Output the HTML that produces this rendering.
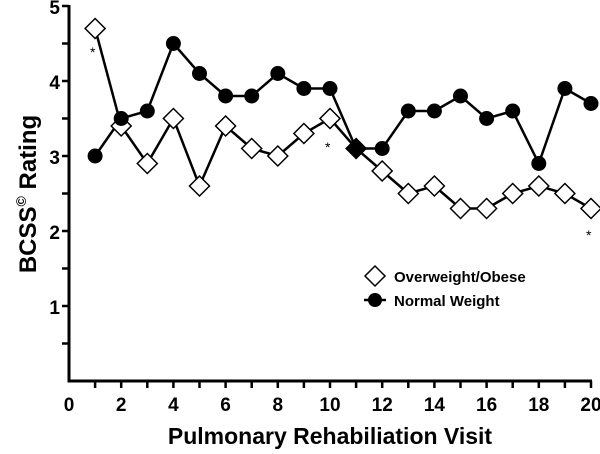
<!DOCTYPE html>
<html><head><style>body{margin:0;background:#fff}</style></head><body>
<svg width="600" height="449" xmlns="http://www.w3.org/2000/svg" font-family="Liberation Sans, sans-serif" font-weight="bold">
<g stroke="#000" stroke-width="3" fill="none">
<line x1="69" y1="5" x2="69" y2="382"/>
<line x1="67.5" y1="381" x2="592" y2="381"/>
</g>
<g stroke="#000" stroke-width="2.5" id="ticks"></g>
<g font-size="19" text-anchor="end" fill="#000">
<text x="60" y="14">5</text><text x="60" y="89">4</text><text x="60" y="164">3</text><text x="60" y="239">2</text><text x="60" y="314">1</text>
</g>
<g font-size="19" text-anchor="middle" fill="#000" id="xl"></g>
<text x="330" y="444" font-size="23" text-anchor="middle">Pulmonary Rehabiliation Visit</text>
<text transform="translate(36,194) rotate(-90)" font-size="24" text-anchor="middle">BCSS<tspan font-size="14" dy="-10">©</tspan><tspan dy="10"> Rating</tspan></text>
<g id="s"></g>
<g font-size="14" font-weight="normal">
<text x="90" y="57">*</text><text x="325" y="152">*</text><text x="586" y="240">*</text>
</g>
<polygon points="375,266 385,276 375,286 365,276" fill="#fff" stroke="#000" stroke-width="1.5"/>
<line x1="364" y1="300" x2="386" y2="300" stroke="#000" stroke-width="2.5"/>
<circle cx="375" cy="300" r="7" fill="#000"/>
<text x="394" y="282" font-size="15">Overweight/Obese</text>
<text x="394" y="306" font-size="15">Normal Weight</text>
<script>
var ns="http://www.w3.org/2000/svg";
function X(v){return 69+26.1*v}function Y(v){return 381-75*v}
function el(t,a,p){var e=document.createElementNS(ns,t);for(var k in a)e.setAttribute(k,a[k]);p.appendChild(e);return e}
var tk=document.getElementById('ticks');
for(var i=1;i<=20;i++)el('line',{x1:X(i),y1:381,x2:X(i),y2:388},tk);
for(var j=1;j<=10;j++)el('line',{x1:62,y1:Y(j/2),x2:69,y2:Y(j/2)},tk);
var xl=document.getElementById('xl');
for(var i=0;i<=20;i+=2){var t=el('text',{x:X(i),y:411},xl);t.textContent=i}
var o=[4.7,3.4,2.9,3.5,2.6,3.4,3.1,3.0,3.3,3.5,3.1,2.8,2.5,2.6,2.3,2.3,2.5,2.6,2.5,2.3];
var n=[3.0,3.5,3.6,4.5,4.1,3.8,3.8,4.1,3.9,3.9,3.1,3.1,3.6,3.6,3.8,3.5,3.6,2.9,3.9,3.7];
var s=document.getElementById('s');
function pl(d){return d.map(function(v,i){return X(i+1)+','+Y(v)}).join(' ')}
el('polyline',{points:pl(o),fill:'none',stroke:'#000','stroke-width':2.5},s);
el('polyline',{points:pl(n),fill:'none',stroke:'#000','stroke-width':2.5},s);
o.forEach(function(v,i){var x=X(i+1),y=Y(v);el('polygon',{points:[x,y-10,x+10,y,x,y+10,x-10,y].join(' '),fill:i==10?'#000':'#fff',stroke:'#000','stroke-width':1.5},s)});
n.forEach(function(v,i){el('circle',{cx:X(i+1),cy:Y(v),r:7.5,fill:'#000'},s)});
</script>
</svg>
</body></html>
